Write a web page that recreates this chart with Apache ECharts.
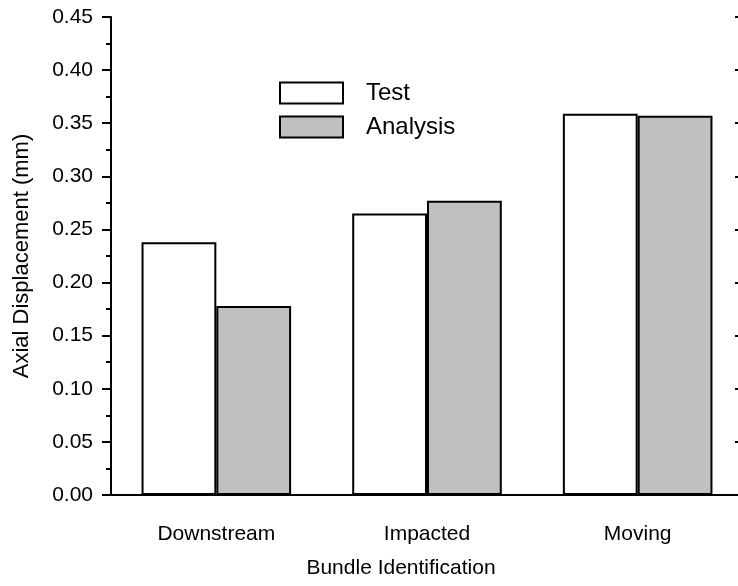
<!DOCTYPE html>
<html><head><meta charset="utf-8">
<script src="https://cdn.jsdelivr.net/npm/echarts@6/dist/echarts.min.js"></script>
<style>html,body{margin:0;background:#fff}#c{width:738px;height:586px}</style>
</head><body><div id="c"></div>
<script>
// Axial displacement per bundle: measured vs. computed
const categories = ['Downstream', 'Impacted', 'Moving'];
const testValues = [0.238, 0.265, 0.359];
const analysisValues = [0.178, 0.277, 0.357];
const seriesNames = ['Test', 'Analysis'];
const yMin = 0, yMax = 0.45, yStep = 0.05;

const font = 'Liberation Sans, Arial, sans-serif';
const ink = '#000';

const chart = echarts.init(document.getElementById('c'), null, { renderer: 'canvas' });

const valueAxisBase = {
  type: 'value', min: yMin, max: yMax, interval: yStep,
  splitLine: { show: false },
  axisLine: { show: true, lineStyle: { color: ink, width: 2 } },
  minorTick: { show: true, splitNumber: 2, length: 5, lineStyle: { color: ink, width: 2 } },
  minorSplitLine: { show: false }
};

chart.setOption({
  animation: false,
  backgroundColor: '#fff',
  grid: { left: 111, top: 17, right: -5, bottom: 91, containLabel: false, outerBoundsMode: 'none' },
  legend: {
    orient: 'vertical', left: 274, top: 76,
    itemWidth: 63, itemHeight: 21, itemGap: 10,
    icon: 'rect',
    textStyle: { fontFamily: font, fontSize: 24, lineHeight: 21, color: ink, padding: [0, 0, 0, 18] },
    data: seriesNames
  },
  xAxis: [{
    type: 'category', data: categories, position: 'bottom',
    axisLine: { lineStyle: { color: ink, width: 2 } },
    axisTick: { alignWithLabel: true, length: 11, lineStyle: { color: ink, width: 2 } },
    axisLabel: { fontFamily: font, fontSize: 21, color: ink, margin: 29 },
    name: 'Bundle Identification', nameLocation: 'middle', nameGap: 63,
    nameTextStyle: { fontFamily: font, fontSize: 21, color: ink, padding: [0, 52, 0, 0] }
  }, {
    type: 'category', data: categories, position: 'top',
    axisLine: { lineStyle: { color: ink, width: 2 } },
    axisTick: { alignWithLabel: true, inside: true, length: 10, lineStyle: { color: ink, width: 2 } },
    axisLabel: { show: false }
  }],
  yAxis: [Object.assign({}, valueAxisBase, {
    position: 'left',
    axisTick: { show: true, length: 9, lineStyle: { color: ink, width: 2 } },
    axisLabel: { fontFamily: font, fontSize: 21, color: ink, margin: 18,
      formatter: v => v.toFixed(2) },
    name: 'Axial Displacement (mm)', nameLocation: 'middle', nameGap: 78,
    nameTextStyle: { fontFamily: font, fontSize: 22, color: ink }
  }), Object.assign({}, valueAxisBase, {
    position: 'right',
    axisTick: { show: true, inside: true, length: 8, lineStyle: { color: ink, width: 2 } },
    minorTick: { show: true, inside: true, splitNumber: 2, length: 5, lineStyle: { color: ink, width: 2 } },
    axisLabel: { show: false }
  })],
  series: [{
    name: seriesNames[0], type: 'bar', data: testValues,
    barGap: '0%', barCategoryGap: '29%',
    itemStyle: { color: '#ffffff', borderColor: ink, borderWidth: 2 }
  }, {
    name: seriesNames[1], type: 'bar', data: analysisValues,
    barGap: '0%', barCategoryGap: '29%',
    itemStyle: { color: '#c0c0c0', borderColor: ink, borderWidth: 2 }
  }]
});
</script>
</body></html>
